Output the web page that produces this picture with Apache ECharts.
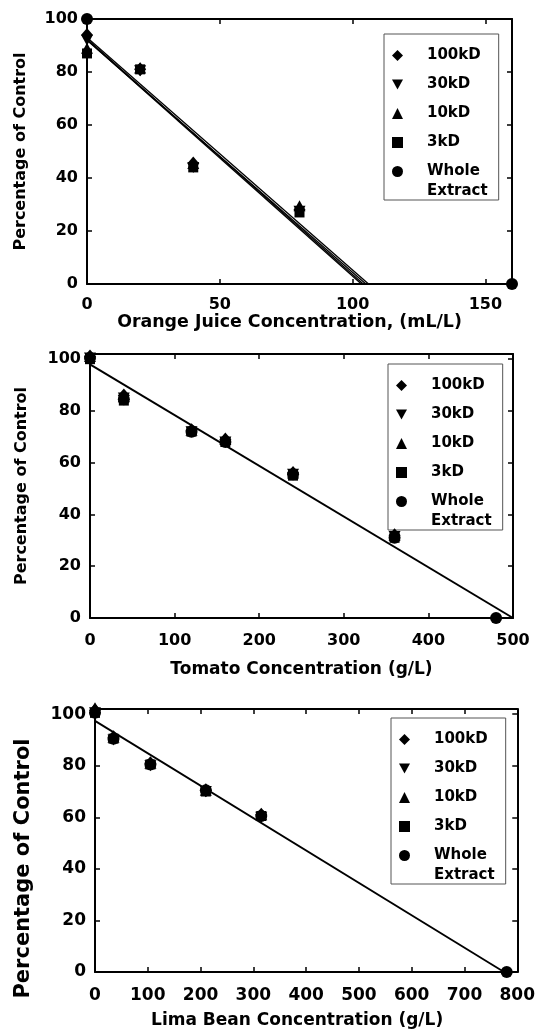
<!DOCTYPE html>
<html>
<head>
<meta charset="utf-8">
<script src="https://cdn.jsdelivr.net/npm/echarts@6/dist/echarts.min.js"></script>
<style>
html, body { margin: 0; padding: 0; background: #fff; }
#chart { width: 538px; height: 1030px; }
</style>
</head>
<body>
<div id="chart"></div>
<script>
var seriesNames = ['100kD', '30kD', '10kD', '3kD', 'Whole Extract'];
var seriesIcons = ['diamond', 'path://M0,0L10,0L5,9Z', 'triangle', 'rect', 'circle'];
var seriesSizes = [[12, 14], [12, 11], [12, 11], 10, 12];

// orange juice panel
var ojConc = [0, 20, 40, 80, 160];
var oj100kD = [94, 81, 45.5, 28, null];
var oj30kD = [92, 80.5, 44, 27.5, null];
var oj10kD = [89, 81.5, 45.5, 29.5, null];
var oj3kD = [87, 81, 44, 27, null];
var ojWhole = [100, null, null, null, 0];
var ojFitStart = [92.5, 92, 93, 92.2];   // y at x = 0
var ojFitEnd = [104, 105, 106, 103.3];   // x where y = 0

// tomato panel
var tomConc = [0, 40, 120, 160, 240, 360, 480];
var tom100kD = [101, 86, 72.5, 69, 56, 32, null];
var tom30kD = [100.5, 85, 72, 68, 55.5, 31.5, null];
var tom10kD = [101, 85.5, 72.5, 69, 56, 32, null];
var tom3kD = [100, 84, 72, 68, 55, 31, null];
var tomWhole = [100.5, 84.5, 72, 68, 55.5, 31, 0];
var tomFitStart = [98];
var tomFitEnd = [500];

// lima bean panel
var limaConc = [0, 35, 105, 210, 315, 780];
var lima100kD = [101.5, 91, 81, 70.5, 61, null];
var lima30kD = [100.5, 90, 80, 70, 60, null];
var lima10kD = [102.5, 91, 81, 70.5, 61, null];
var lima3kD = [100.5, 90.5, 80.5, 70, 60.5, null];
var limaWhole = [100.5, 90.5, 80.5, 70.5, 60.5, 0];
var limaFitStart = [97.4];
var limaFitEnd = [775];

var xTitles = ['Orange Juice Concentration, (mL/L)', 'Tomato Concentration (g/L)', 'Lima Bean Concentration (g/L)'];
var yTitle = 'Percentage of Control';

var panels = [
    { conc: ojConc, vals: [oj100kD, oj30kD, oj10kD, oj3kD, ojWhole], fitStart: ojFitStart, fitEnd: ojFitEnd,
      grid: { left: 87, top: 19, width: 425, height: 265 }, xMax: 160, xStep: 50, yMax: 100,
      legendPos: [384, 34], xLabelMargin: 13, tickSize: 16, xNameGap: 29, xNameSize: 17.4, xNameShift: 20,
      yNameGap: 58, yNameSize: 16, yNameShift: 0, lineWidth: 1.3 },
    { conc: tomConc, vals: [tom100kD, tom30kD, tom10kD, tom3kD, tomWhole], fitStart: tomFitStart, fitEnd: tomFitEnd,
      grid: { left: 90, top: 354, width: 423, height: 264 }, xMax: 500, xStep: 100, yMax: 102,
      legendPos: [388, 364], xLabelMargin: 15, tickSize: 16, xNameGap: 43, xNameSize: 17, xNameShift: 0,
      yNameGap: 60, yNameSize: 16, yNameShift: 0, lineWidth: 2 },
    { conc: limaConc, vals: [lima100kD, lima30kD, lima10kD, lima3kD, limaWhole], fitStart: limaFitStart, fitEnd: limaFitEnd,
      grid: { left: 95, top: 709, width: 424, height: 265 }, xMax: 800, xStep: 100, yMax: 102,
      legendPos: [391, 718], xLabelMargin: 15, tickSize: 17, xNameGap: 40, xNameSize: 17, xNameShift: 18,
      yNameGap: 61, yNameSize: 21, yNameShift: 56, lineWidth: 1.8 }
];

var FONT = 'DejaVu Sans';
var grids = [], xAxes = [], yAxes = [], series = [], legends = [];

function axisBase(gridIndex, pos, min, max, step, showLabel, size) {
    return {
        type: 'value',
        gridIndex: gridIndex,
        position: pos,
        min: min,
        max: max,
        interval: step,
        axisLine: { show: true, onZero: false, lineStyle: { color: '#000', width: 2 } },
        axisTick: { show: true, inside: true, length: 5, lineStyle: { color: '#000', width: 1.5 } },
        splitLine: { show: false },
        axisLabel: {
            show: showLabel,
            showMaxLabel: max % step === 0,
            color: '#000',
            fontFamily: FONT,
            fontWeight: 'bold',
            fontSize: size
        }
    };
}

panels.forEach(function (p, i) {
    grids.push(p.grid);

    var xb = axisBase(i, 'bottom', 0, p.xMax, p.xStep, true, p.tickSize);
    xb.axisLabel.margin = p.xLabelMargin;
    xb.name = xTitles[i];
    xb.nameLocation = 'middle';
    xb.nameGap = p.xNameGap;
    xb.nameTextStyle = { color: '#000', fontFamily: FONT, fontWeight: 'bold', fontSize: p.xNameSize,
        padding: [0, p.xNameShift, 0, 0] };
    xAxes.push(xb);
    xAxes.push(axisBase(i, 'top', 0, p.xMax, p.xStep, false, p.tickSize));

    var yl = axisBase(i, 'left', 0, p.yMax, 20, true, p.tickSize);
    yl.axisLabel.margin = 9;
    yl.name = yTitle;
    yl.nameLocation = 'middle';
    yl.nameGap = p.yNameGap;
    yl.nameTextStyle = { color: '#000', fontFamily: FONT, fontWeight: 'bold', fontSize: p.yNameSize,
        padding: [0, p.yNameShift, 0, 0] };
    yAxes.push(yl);
    yAxes.push(axisBase(i, 'right', 0, p.yMax, 20, false, p.tickSize));

    // fitted lines
    p.fitStart.forEach(function (y0, k) {
        series.push({
            name: 'fit' + i + '_' + k,
            type: 'line',
            xAxisIndex: 2 * i,
            yAxisIndex: 2 * i,
            data: [[0, y0], [p.fitEnd[k], 0]],
            symbol: 'none',
            silent: true,
            z: 2,
            lineStyle: { color: '#000', width: p.lineWidth }
        });
    });

    // markers
    seriesNames.forEach(function (name, s) {
        var pts = [];
        p.vals[s].forEach(function (v, j) {
            if (v !== null) pts.push([p.conc[j], v]);
        });
        series.push({
            name: name,
            type: 'scatter',
            xAxisIndex: 2 * i,
            yAxisIndex: 2 * i,
            data: pts,
            symbol: seriesIcons[s],
            symbolSize: seriesSizes[s],
            clip: false,
            z: 5,
            itemStyle: { color: '#000', opacity: 1 }
        });
    });

    legends.push({
        orient: 'vertical',
        left: p.legendPos[0],
        top: p.legendPos[1],
        selectedMode: false,
        itemWidth: 11,
        itemHeight: 11,
        itemGap: 14,
        padding: [14, 11, 1, 8],
        backgroundColor: '#fff',
        borderColor: '#555',
        borderWidth: 1,
        borderRadius: 0,
        data: seriesNames.map(function (name, s) {
            var item = { name: name, icon: seriesIcons[s] };
            if (name === 'Whole Extract') {
                item.textStyle = { padding: [0, 0, -20, 19] };
            }
            return item;
        }),
        formatter: function (name) {
            return name === 'Whole Extract' ? '{b|Whole}\n{b|Extract}' : name;
        },
        textStyle: {
            color: '#000',
            fontFamily: FONT,
            fontWeight: 'bold',
            fontSize: 15,
            padding: [0, 0, 0, 19],
            rich: {
                b: { color: '#000', fontFamily: FONT, fontWeight: 'bold', fontSize: 15, lineHeight: 20 }
            }
        }
    });
});

var chart = echarts.init(document.getElementById('chart'));
chart.setOption({
    animation: false,
    backgroundColor: '#fff',
    grid: grids,
    xAxis: xAxes,
    yAxis: yAxes,
    legend: legends,
    series: series
});
</script>
</body>
</html>
